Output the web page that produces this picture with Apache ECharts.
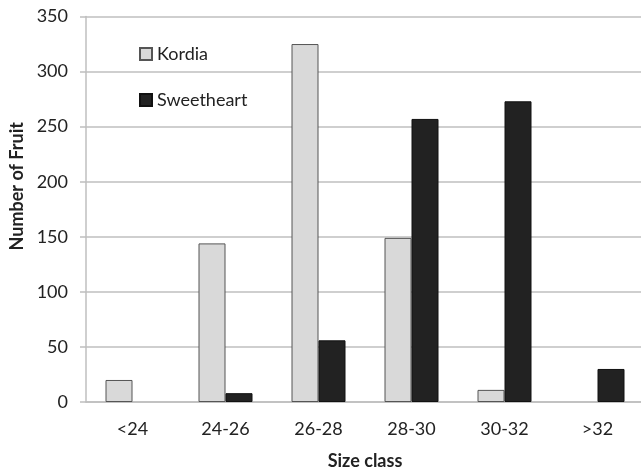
<!DOCTYPE html>
<html>
<head>
<meta charset="utf-8">
<script src="https://cdn.jsdelivr.net/npm/echarts@6/dist/echarts.min.js"></script>
<style>
  html, body { margin: 0; padding: 0; background: #fff; }
  #chart { width: 641px; height: 470px; }
</style>
</head>
<body>
<div id="chart"></div>
<script>
// size classes and fruit counts
const sizeClasses = ['<24', '24-26', '26-28', '28-30', '30-32', '>32']
const kordia = [20, 144, 325, 149, 11, 0]
const sweetheart = [0, 8, 56, 257, 273, 30]

const font = 'Lato'
const gridGray = '#bfbfbf'

// empty bars get no outline
const toItems = (arr) => arr.map(v => (v === 0 ? { value: v, itemStyle: { borderWidth: 0 } } : v))

const chart = echarts.init(document.getElementById('chart'))
chart.setOption({
  animation: false,
  grid: { left: 86, right: -3, top: 16.5, bottom: 68, outerBoundsMode: 'none', containLabel: false },
  legend: {
    orient: 'vertical',
    left: 139,
    top: 45,
    padding: 0,
    itemWidth: 12,
    itemHeight: 12,
    itemGap: 28,
    icon: 'rect',
    textStyle: { fontFamily: font, fontSize: 18, color: '#222' },
    data: ['Kordia', 'Sweetheart']
  },
  xAxis: {
    type: 'category',
    data: sizeClasses,
    name: 'Size class',
    nameLocation: 'middle',
    nameGap: 50,
    nameTextStyle: { fontFamily: font, fontSize: 18, fontWeight: 'bold', color: '#222' },
    axisLine: { lineStyle: { color: gridGray, width: 1.5 } },
    axisTick: { length: 6, lineStyle: { color: gridGray, width: 1.5 } },
    axisLabel: { fontFamily: font, fontSize: 18, color: '#222', margin: 18 }
  },
  yAxis: {
    type: 'value',
    min: 0,
    max: 350,
    interval: 50,
    name: 'Number of Fruit',
    nameLocation: 'middle',
    nameGap: 55,
    nameTextStyle: { fontFamily: font, fontSize: 18, fontWeight: 'bold', color: '#222', padding: [0, 0, 0, 46] },
    axisLine: { show: true, lineStyle: { color: gridGray, width: 1.5 } },
    axisTick: { show: true, length: 6, lineStyle: { color: gridGray, width: 1.5 } },
    axisLabel: { fontFamily: font, fontSize: 18, color: '#222', margin: 18 },
    splitLine: { lineStyle: { color: gridGray, width: 1.5 } }
  },
  series: [
    {
      name: 'Kordia',
      type: 'bar',
      data: toItems(kordia),
      barWidth: 27,
      barGap: '0%',
      itemStyle: { color: '#d9d9d9', borderColor: '#555', borderWidth: 1 }
    },
    {
      name: 'Sweetheart',
      type: 'bar',
      data: toItems(sweetheart),
      barWidth: 27,
      itemStyle: { color: '#222', borderColor: '#111', borderWidth: 1 }
    }
  ]
})
</script>
</body>
</html>
